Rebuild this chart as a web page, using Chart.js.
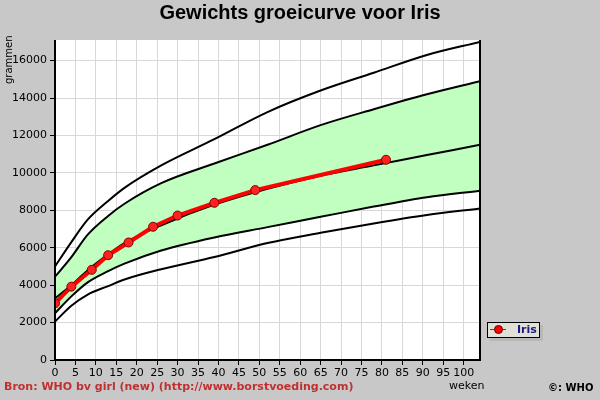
<!DOCTYPE html>
<html>
<head>
<meta charset="utf-8">
<script src="https://cdn.jsdelivr.net/npm/chart.js@4"></script>
<style>
  body { margin: 0; background: #c8c8c8; font-family: "DejaVu Sans", sans-serif; }
  #wrap { position: relative; width: 600px; height: 400px; }
  .txt { position: absolute; white-space: nowrap; }
</style>
</head>
<body>
<div id="wrap">
  <canvas id="groei" width="600" height="400"></canvas>
  <div class="txt" style="left:0;width:600px;top:1px;text-align:center;font:bold 20px 'Liberation Sans',sans-serif;">Gewichts groeicurve voor Iris</div>
  <div class="txt" style="left:3px;top:84px;transform:rotate(-90deg);transform-origin:left top;font:10px 'DejaVu Sans';">grammen</div>
  <div class="txt" style="left:449px;top:379px;font:11px 'DejaVu Sans';">weken</div>
  <div class="txt" style="left:4px;top:380px;font:bold 11px 'DejaVu Sans';color:#c03030;">Bron: WHO bv girl (new) (http://www.borstvoeding.com)</div>
  <div class="txt" style="left:548px;top:382px;font:bold 10px 'DejaVu Sans';">©: WHO</div>
  <div class="txt" style="left:487px;top:322px;width:51px;height:14px;border:1px solid #000;background:#e0e0d8;box-shadow:3px 3px 0 #b8b8b8;">
    <span style="position:absolute;left:2px;top:6px;width:16px;height:1px;background:red;"></span>
    <span style="position:absolute;left:6px;top:2px;width:7px;height:7px;border-radius:50%;background:red;border:1px solid #600;"></span>
    <span style="position:absolute;left:29px;top:0px;font:bold 11px 'DejaVu Sans';color:#1a1a80;">Iris</span>
  </div>
  <div id="err" class="txt" style="left:60px;top:45px;font:10px monospace;color:#00f;"></div>
</div>
<script>
window.onerror = (m) => { document.getElementById("err").textContent = m; };

const weeks = [0, 4, 8, 13, 17, 26, 39, 52, 65, 78, 91, 104];
const lineBottom = [2050, 2900, 3500, 3950, 4300, 4850, 5500, 6250, 6800, 7300, 7750, 8100];
const lineLow    = [2500, 3400, 4150, 4750, 5150, 5850, 6550, 7100, 7650, 8200, 8700, 9050];
const lineMedian = [3300, 4000, 4800, 5650, 6250, 7200, 8300, 9150, 9850, 10400, 10950, 11500];
const lineHigh   = [4450, 5500, 6700, 7700, 8350, 9450, 10500, 11500, 12550, 13400, 14200, 14900];
const lineTop    = [5000, 6300, 7500, 8500, 9200, 10400, 11800, 13250, 14400, 15350, 16300, 17000];

// metingen van Iris
const irisWeeks  = [0, 4, 9, 13, 18, 24, 30, 39, 49, 81];
const irisWeight = [3030, 3920, 4820, 5600, 6280, 7120, 7720, 8400, 9080, 10700];

const xTicks = [0, 5, 10, 15, 20, 25, 30, 35, 40, 45, 50, 55, 60, 65, 70, 75, 80, 85, 90, 95, 100];
const yTicks = [0, 2000, 4000, 6000, 8000, 10000, 12000, 14000, 16000];

const pts = (xs, ys) => xs.map((x, i) => ({ x: x, y: ys[i] }));

const who = (data, fill) => ({
  data: data, borderColor: "#000", borderWidth: 2, pointRadius: 0,
  cubicInterpolationMode: "monotone", fill: fill, backgroundColor: "#c0ffc0", order: 2
});

const plotBg = {
  id: "plotBg",
  beforeDraw(chart) {
    const { ctx, chartArea: a } = chart;
    ctx.save();
    ctx.fillStyle = "#fff";
    ctx.fillRect(a.left, a.top, a.right - a.left, a.bottom - a.top);
    ctx.restore();
  },
  afterDraw(chart) {
    const { ctx, chartArea: a } = chart;
    ctx.save();
    ctx.strokeStyle = "#000";
    ctx.lineWidth = 2;
    ctx.beginPath();
    ctx.moveTo(a.left, a.top);
    ctx.lineTo(a.left, a.bottom);
    ctx.lineTo(a.right, a.bottom);
    ctx.lineTo(a.right, a.top);
    ctx.stroke();
    ctx.restore();
  }
};

new Chart(document.getElementById("groei"), {
  type: "line",
  data: {
    datasets: [
      who(pts(weeks, lineBottom), false),
      who(pts(weeks, lineLow), false),
      who(pts(weeks, lineMedian), false),
      who(pts(weeks, lineHigh), 1),
      who(pts(weeks, lineTop), false),
      {
        label: "Iris", data: pts(irisWeeks, irisWeight), order: 0,
        borderColor: "#ff0000", borderWidth: 4, backgroundColor: "#ff2020",
        pointRadius: 4.5, pointBorderColor: "#800000", pointBorderWidth: 1,
        fill: false, showLine: true
      }
    ]
  },
  options: {
    responsive: false,
    animation: false,
    layout: { padding: { left: 0, right: 120, top: 40, bottom: 0 } },
    plugins: { legend: { display: false }, title: { display: false }, tooltip: { enabled: false } },
    scales: {
      x: {
        type: "linear", min: 0, max: 104,
        afterBuildTicks: s => { s.ticks = xTicks.map(v => ({ value: v })); },
        afterFit: s => { s.height = 40; },
        grid: { color: "#d8d8d8", tickColor: "#000", tickLength: 5 },
        border: { display: false },
        ticks: { color: "#000", font: { family: "DejaVu Sans", size: 11 }, maxRotation: 0, autoSkip: false, padding: 2,
                 callback: v => String(v) }
      },
      y: {
        type: "linear", min: 0, max: 17100,
        afterBuildTicks: s => { s.ticks = yTicks.map(v => ({ value: v })); },
        afterFit: s => { s.width = 55; },
        grid: { color: "#d8d8d8", tickColor: "#000", tickLength: 5 },
        border: { display: false },
        ticks: { color: "#000", font: { family: "DejaVu Sans", size: 11 }, padding: 3,
                 callback: v => String(v) }
      }
    }
  },
  plugins: [plotBg]
});
</script>
</body>
</html>
